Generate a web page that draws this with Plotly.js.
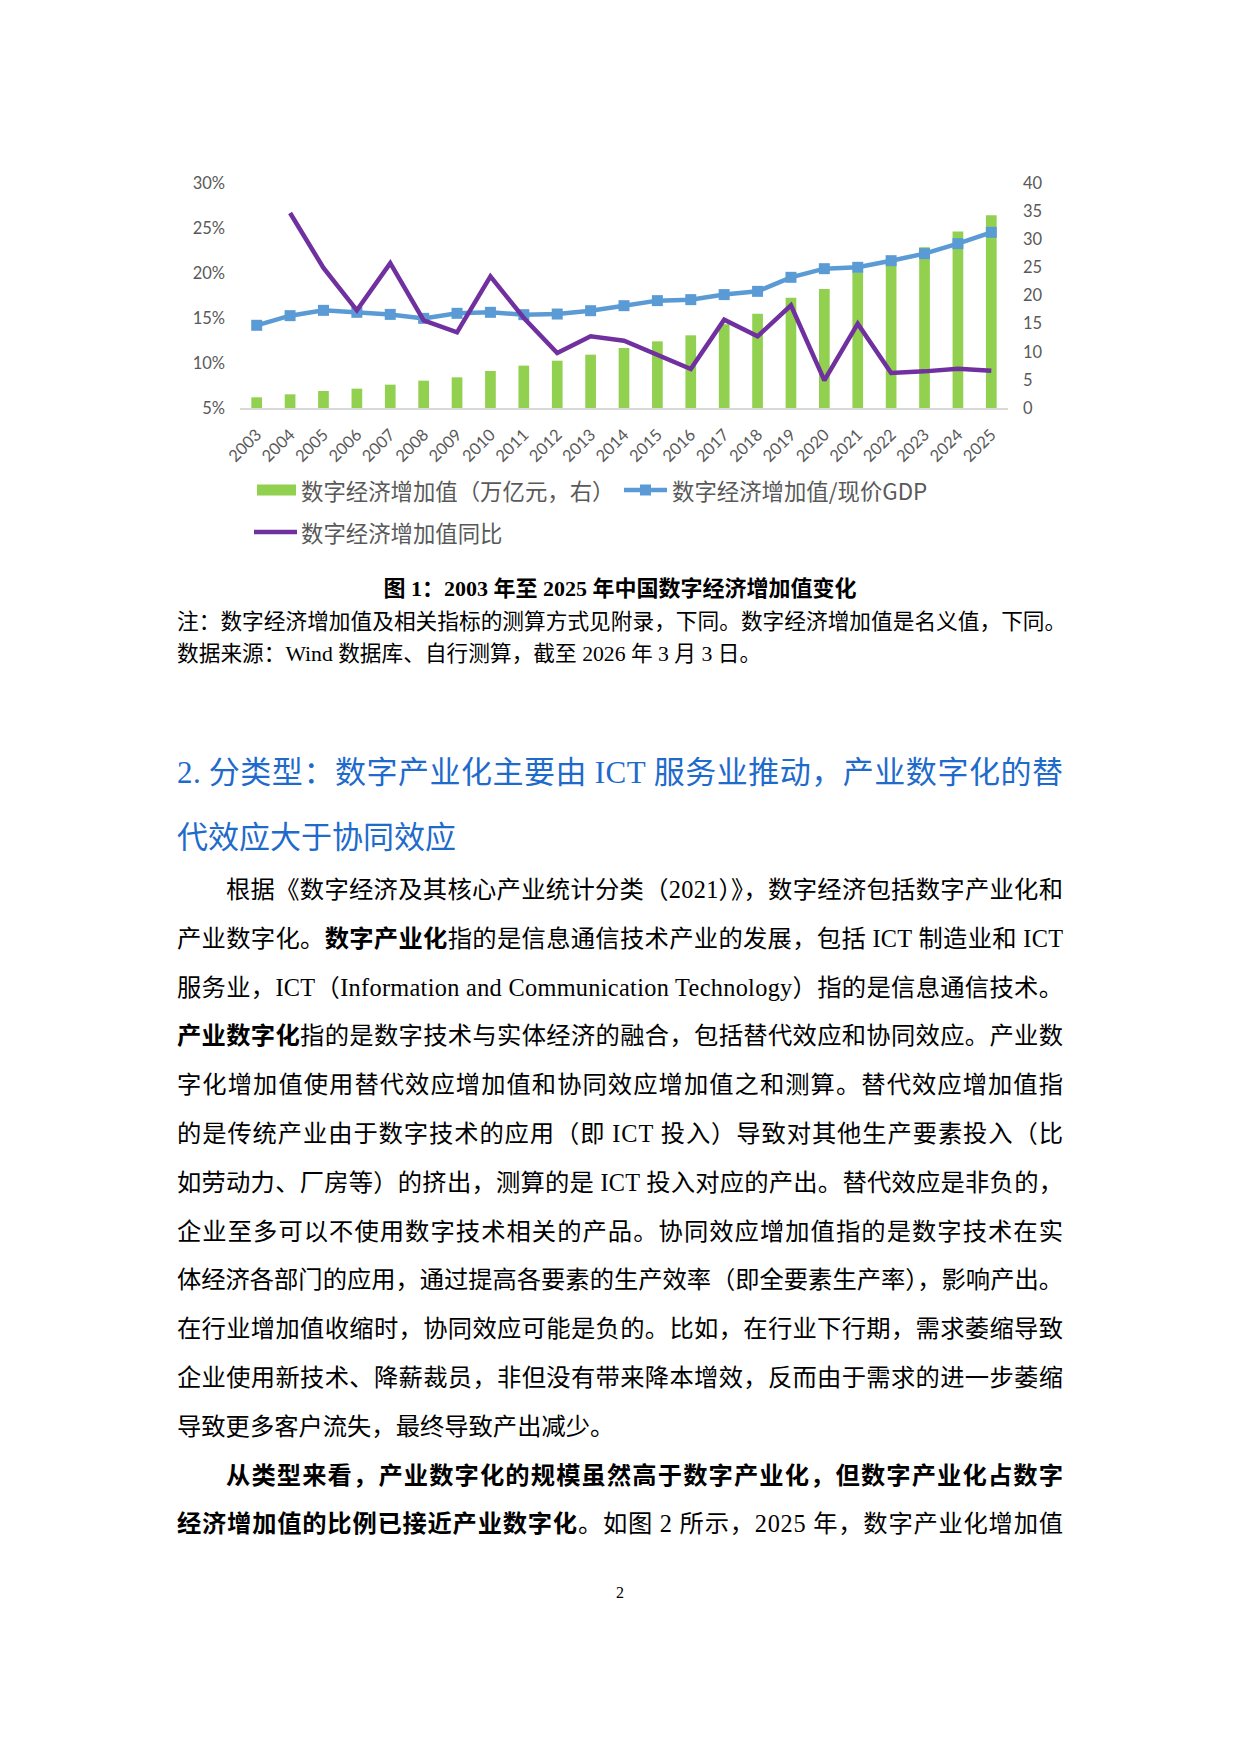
<!DOCTYPE html>
<html lang="zh-CN">
<head>
<meta charset="utf-8">
<script src="https://cdn.plot.ly/plotly-3.0.1.min.js"></script>
<style>
  html, body { margin: 0; padding: 0; background: #fff; }
  #page { position: relative; width: 1240px; height: 1753px; overflow: hidden; background: #fff; }
  #chart { position: absolute; left: 0; top: 0; width: 1240px; height: 560px; }
  .ln {
    position: absolute; left: 177px; white-space: nowrap; color: #000;
    font-family: "Liberation Serif", "Noto Sans CJK SC", serif;
  }
  .ln b { font-weight: bold; }
  .cap { left: 0; width: 1240px; text-align: center; font-size: 22px; font-weight: bold; height: 32px; line-height: 32px; }
  .note { font-size: 21.7px; height: 32px; line-height: 32px; }
  .head { font-size: 31px; color: #1f6bcb; height: 46px; line-height: 46px;
          font-family: "Noto Sans CJK SC", sans-serif; }
  .head .lat { font-family: "Liberation Serif", serif; }
  .body { font-size: 24.3px; height: 40px; line-height: 40px; }
  .pg { left: 0; width: 1240px; text-align: center; font-size: 16px; height: 24px; line-height: 24px; }
</style>
</head>
<body>
<div id="page">
  <div id="chart"></div>
</div>
<script>
// 数据
const years = ['2003', '2004', '2005', '2006', '2007', '2008', '2009', '2010', '2011', '2012', '2013', '2014',
  '2015', '2016', '2017', '2018', '2019', '2020', '2021', '2022', '2023', '2024', '2025'];
// 数字经济增加值（万亿元，右轴）
const addedValue = [1.9, 2.43, 3.02, 3.44, 4.15, 4.86, 5.45, 6.58, 7.53, 8.41, 9.48, 10.67,
  11.85, 12.92, 14.9, 16.77, 19.6, 21.16, 24.1, 26.2, 28.6, 31.4, 34.25];
// 数字经济增加值/现价GDP（%）
const gdpShare = [14.19, 15.26, 15.85, 15.63, 15.4, 14.96, 15.52, 15.63, 15.37, 15.44, 15.81, 16.37,
  16.93, 17.04, 17.6, 17.96, 19.52, 20.48, 20.63, 21.37, 22.15, 23.26, 24.52];
// 数字经济增加值同比（%）
const yoyGrowth = [null, 26.67, 20.56, 15.85, 21.1, 14.74, 13.41, 19.63, 15.0, 11.11, 12.96, 12.48,
  10.93, 9.33, 14.81, 12.96, 16.41, 8.07, 14.37, 8.89, 9.07, 9.37, 9.15];

const leftTicks = [5, 10, 15, 20, 25, 30];
const leftTickText = ['5%', '10%', '15%', '20%', '25%', '30%'];
const rightTicks = [0, 5, 10, 15, 20, 25, 30, 35, 40];
const legendNames = ['数字经济增加值（万亿元，右）', '数字经济增加值/现价GDP', '数字经济增加值同比'];

const GREEN = '#92D050', BLUE = '#5B9BD5', PURPLE = '#7030A0', GREY = '#595959';
const tickFont = { family: 'Lato, "Open Sans", sans-serif', size: 16.5, color: GREY };

// 图区像素 -> paper 坐标（仅用于手画图例）
const PL = 240, PR = 1008, PT = 183, PB = 408;
const px = x => (x - PL) / (PR - PL);
const py = y => (PB - y) / (PB - PT);

const traces = [
  {
    type: 'bar', x: years, y: addedValue, name: legendNames[0],
    marker: { color: GREEN }, yaxis: 'y'
  },
  {
    type: 'scatter', mode: 'lines+markers', x: years, y: gdpShare, name: legendNames[1],
    line: { color: BLUE, width: 4.5 }, marker: { symbol: 'square', size: 11, color: BLUE },
    yaxis: 'y2'
  },
  {
    type: 'scatter', mode: 'lines', x: years, y: yoyGrowth, name: legendNames[2],
    line: { color: PURPLE, width: 4.5 }, yaxis: 'y2'
  }
];

const legFont = { family: '"Noto Sans CJK SC", sans-serif', size: 22.4, color: GREY };
const shapes = [
  { type: 'rect', xref: 'paper', yref: 'paper', x0: px(257), x1: px(296), y0: py(484.5), y1: py(495.5),
    fillcolor: GREEN, line: { width: 0 } },
  { type: 'line', xref: 'paper', yref: 'paper', x0: px(624), x1: px(667), y0: py(490), y1: py(490),
    line: { color: BLUE, width: 4.5 } },
  { type: 'rect', xref: 'paper', yref: 'paper', x0: px(640), x1: px(651), y0: py(484.5), y1: py(495.5),
    fillcolor: BLUE, line: { width: 0 } },
  { type: 'line', xref: 'paper', yref: 'paper', x0: px(254), x1: px(297), y0: py(532), y1: py(532),
    line: { color: PURPLE, width: 4.5 } }
];
const annotations = [
  { x: px(299), y: py(490), text: legendNames[0] },
  { x: px(670), y: py(490), text: legendNames[1] },
  { x: px(299), y: py(532), text: legendNames[2] }
].map(a => ({ ...a, xref: 'paper', yref: 'paper', xanchor: 'left', yanchor: 'middle',
  showarrow: false, font: legFont }));

const layout = {
  width: 1240, height: 560,
  margin: { l: PL, r: 1240 - PR, t: PT, b: 560 - PB },
  paper_bgcolor: 'rgba(0,0,0,0)', plot_bgcolor: 'rgba(0,0,0,0)',
  showlegend: false,
  bargap: 0.68,
  xaxis: {
    type: 'category', range: [-0.5, years.length - 0.5], autorange: false, automargin: false,
    tickangle: -45, showline: true, linecolor: '#d9d9d9', linewidth: 1.5,
    showgrid: false, zeroline: false, ticks: '', tickfont: tickFont, ticklabelstandoff: 9
  },
  yaxis: {
    side: 'right', range: [0, 40], tickvals: rightTicks, showgrid: false, zeroline: false, automargin: false,
    ticks: '', tickfont: tickFont, ticklabelstandoff: 14
  },
  yaxis2: {
    overlaying: 'y', side: 'left', range: [5, 30], tickvals: leftTicks, ticktext: leftTickText,
    showgrid: false, zeroline: false, automargin: false,
    ticks: '', tickfont: tickFont, ticklabelstandoff: 14
  },
  shapes, annotations
};

Plotly.newPlot('chart', traces, layout, { displayModeBar: false, staticPlot: true });

// 正文
const page = document.getElementById('page');
function addLine(cls, centerY, html, opts = {}) {
  const d = document.createElement('div');
  d.className = 'ln ' + cls;
  d.innerHTML = '<span>' + html + '</span>';
  page.appendChild(d);
  d.style.top = (centerY - d.offsetHeight / 2) + 'px';
  if (opts.indent) d.style.left = (177 + opts.indent) + 'px';
  if (opts.fit) d.dataset.fit = 886 - (opts.indent || 0);
  return d;
}

addLine('cap', 589, '图 1：2003 年至 2025 年中国数字经济增加值变化');
addLine('note', 622, '注：数字经济增加值及相关指标的测算方式见附录，下同。数字经济增加值是名义值，下同。');
addLine('note', 654, '数据来源：Wind 数据库、自行测算，截至 2026 年 3 月 3 日。');

addLine('head', 770, '<span class="lat">2.</span> 分类型：数字产业化主要由 <span class="lat">ICT</span> 服务业推动，产业数字化的替', { fit: true });
addLine('head', 835, '代效应大于协同效应');

const bodyLines = [
  ['根据《数字经济及其核心产业统计分类（2021）》，数字经济包括数字产业化和', 49, true],
  ['产业数字化。<b>数字产业化</b>指的是信息通信技术产业的发展，包括 ICT 制造业和 ICT', 0, true],
  ['服务业，ICT（Information and Communication Technology）指的是信息通信技术。', 0, true],
  ['<b>产业数字化</b>指的是数字技术与实体经济的融合，包括替代效应和协同效应。产业数', 0, true],
  ['字化增加值使用替代效应增加值和协同效应增加值之和测算。替代效应增加值指', 0, true],
  ['的是传统产业由于数字技术的应用（即 ICT 投入）导致对其他生产要素投入（比', 0, true],
  ['如劳动力、厂房等）的挤出，测算的是 ICT 投入对应的产出。替代效应是非负的，', 0, true],
  ['企业至多可以不使用数字技术相关的产品。协同效应增加值指的是数字技术在实', 0, true],
  ['体经济各部门的应用，通过提高各要素的生产效率（即全要素生产率），影响产出。', 0, true],
  ['在行业增加值收缩时，协同效应可能是负的。比如，在行业下行期，需求萎缩导致', 0, true],
  ['企业使用新技术、降薪裁员，非但没有带来降本增效，反而由于需求的进一步萎缩', 0, true],
  ['导致更多客户流失，最终导致产出减少。', 0, false],
  ['<b>从类型来看，产业数字化的规模虽然高于数字产业化，但数字产业化占数字</b>', 49, true],
  ['<b>经济增加值的比例已接近产业数字化</b>。如图 2 所示，2025 年，数字产业化增加值', 0, true]
];
bodyLines.forEach((l, i) => {
  addLine('body', 890 + i * 48.8, l[0], { indent: l[1], fit: l[2] });
});
addLine('pg', 1593, '2');

// 两端对齐：按行调整字距
function fitLines() {
  document.querySelectorAll('[data-fit]').forEach(d => {
    const target = parseFloat(d.dataset.fit);
    d.style.letterSpacing = '0px';
    const span = d.firstChild;
    const w = span.getBoundingClientRect().width;
    const n = span.textContent.length;
    if (n > 1) d.style.letterSpacing = ((target - w) / (n - 1)) + 'px';
  });
}
if (document.fonts && document.fonts.ready) document.fonts.ready.then(fitLines);
fitLines();
</script>
</body>
</html>
